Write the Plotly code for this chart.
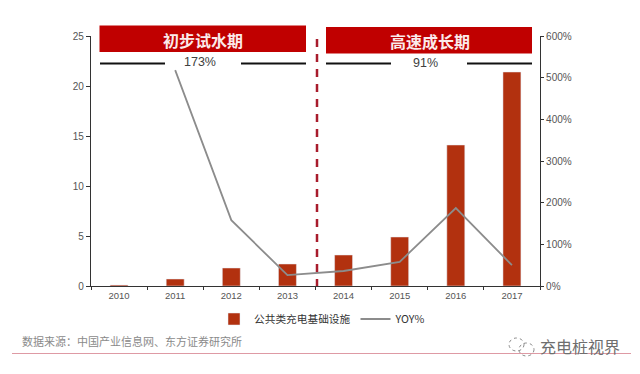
import plotly.graph_objects as go

years = ["2010", "2011", "2012", "2013", "2014", "2015", "2016", "2017"]
stations = [0.1, 0.7, 1.8, 2.2, 3.1, 4.9, 14.1, 21.4]
yoy_years = ["2011", "2012", "2013", "2014", "2015", "2016", "2017"]
yoy = [518, 158, 26, 36, 58, 187, 50]
left_ticks = [0, 5, 10, 15, 20, 25]
right_ticks = [0, 100, 200, 300, 400, 500, 600]
right_labels = ["0%", "100%", "200%", "300%", "400%", "500%", "600%"]

L, R, T, B = 91, 540, 36, 286
def px(x): return (x - L) / (R - L)
def py(y): return (B - y) / (B - T)

fig = go.Figure()
fig.add_bar(x=years, y=stations, name="公共类充电基础设施", marker_color="#B2310F",
            width=0.32, yaxis="y")
fig.add_scatter(x=yoy_years, y=yoy, name="YOY%", mode="lines",
                line=dict(color="#8C8C8C", width=1.8), yaxis="y2")

shapes = []
def rect(x0, x1, y0, y1, color):
    shapes.append(dict(type="rect", xref="paper", yref="paper", x0=px(x0), x1=px(x1),
                       y0=py(y1), y1=py(y0), fillcolor=color, line_width=0, layer="above"))
def line(x0, x1, y0, y1, color, width, dash="solid"):
    shapes.append(dict(type="line", xref="paper", yref="paper", x0=px(x0), x1=px(x1),
                       y0=py(y0), y1=py(y1), line=dict(color=color, width=width, dash=dash),
                       layer="above"))
def ring(x0, x1, y0, y1):
    shapes.append(dict(type="circle", xref="paper", yref="paper", x0=px(x0), x1=px(x1),
                       y0=py(y1), y1=py(y0), line=dict(color="#8A8A8A", width=1, dash="dot"),
                       layer="above"))
rect(99.5, 306, 25.5, 52, "#C00000")
rect(326, 532, 27, 53.5, "#C00000")
for a, b in [(100, 165), (241, 306), (326, 391), (467, 532)]:
    line(a, b, 63.5, 63.5, "#111111", 2)
line(317, 317, 39, 286, "#A81C2C", 2.5, "8px,7px")
line(12, 631, 353.5, 353.5, "#DE9AA4", 1.2)
ring(509, 524, 338, 351)
ring(519, 534, 343, 356)

def text(x, y, s, size, color="#404040", family="Noto Sans CJK SC, Liberation Sans", xanchor="center"):
    return dict(xref="paper", yref="paper", x=px(x), y=py(y), text=s, showarrow=False,
                xanchor=xanchor, yanchor="middle",
                font=dict(size=size, color=color, family=family))

annotations = [
    text(203, 39.5, "<b>初步试水期</b>", 16, "#FBEAEA", "Noto Sans CJK SC"),
    text(430, 41, "<b>高速成长期</b>", 16, "#FBEAEA", "Noto Sans CJK SC"),
    text(200, 62, "173%", 12.5, "#404040", "Liberation Sans"),
    text(425, 63, "91%", 12.5, "#404040", "Liberation Sans"),
    text(20, 341, "数据来源：中国产业信息网、东方证券研究所", 11, "#8A8A8A", xanchor="left"),
    text(538, 346, "充电桩视界", 16, "#6E6E6E", xanchor="left"),
]

fig.update_layout(
    width=640, height=374, autosize=False,
    margin=dict(l=L, r=640 - R, t=T, b=374 - B),
    paper_bgcolor="white", plot_bgcolor="white",
    showlegend=True,
    legend=dict(orientation="h", x=px(214), y=py(319), xanchor="left", yanchor="middle",
                font=dict(size=10.7, color="#333333", family="Noto Sans CJK SC, Liberation Serif"),
                itemwidth=30),
    xaxis=dict(type="category", categoryorder="array", categoryarray=years,
               showgrid=False, showline=True, linecolor="#333333", linewidth=1.2,
               ticks="outside", ticklen=3, tickcolor="#333333",
               tickson="boundaries",
               tickfont=dict(size=9.5, color="#555555", family="Liberation Sans")),
    yaxis=dict(range=[0, 25], tickvals=left_ticks, showgrid=False, zeroline=False,
               showline=True, linecolor="#333333", linewidth=1.2,
               ticks="outside", ticklen=4, tickcolor="#333333",
               tickfont=dict(size=10, color="#555555", family="Liberation Sans")),
    yaxis2=dict(range=[0, 600], tickvals=right_ticks, ticktext=right_labels, overlaying="y",
                side="right", showgrid=False, zeroline=False,
                showline=True, linecolor="#333333", linewidth=1.2,
                ticks="outside", ticklen=3, tickcolor="#333333",
                tickfont=dict(size=10, color="#555555", family="Liberation Sans")),
    shapes=shapes, annotations=annotations,
)
fig.write_html("out.html", config=dict(displayModeBar=False),
               post_script="document.body.style.margin='0';")
